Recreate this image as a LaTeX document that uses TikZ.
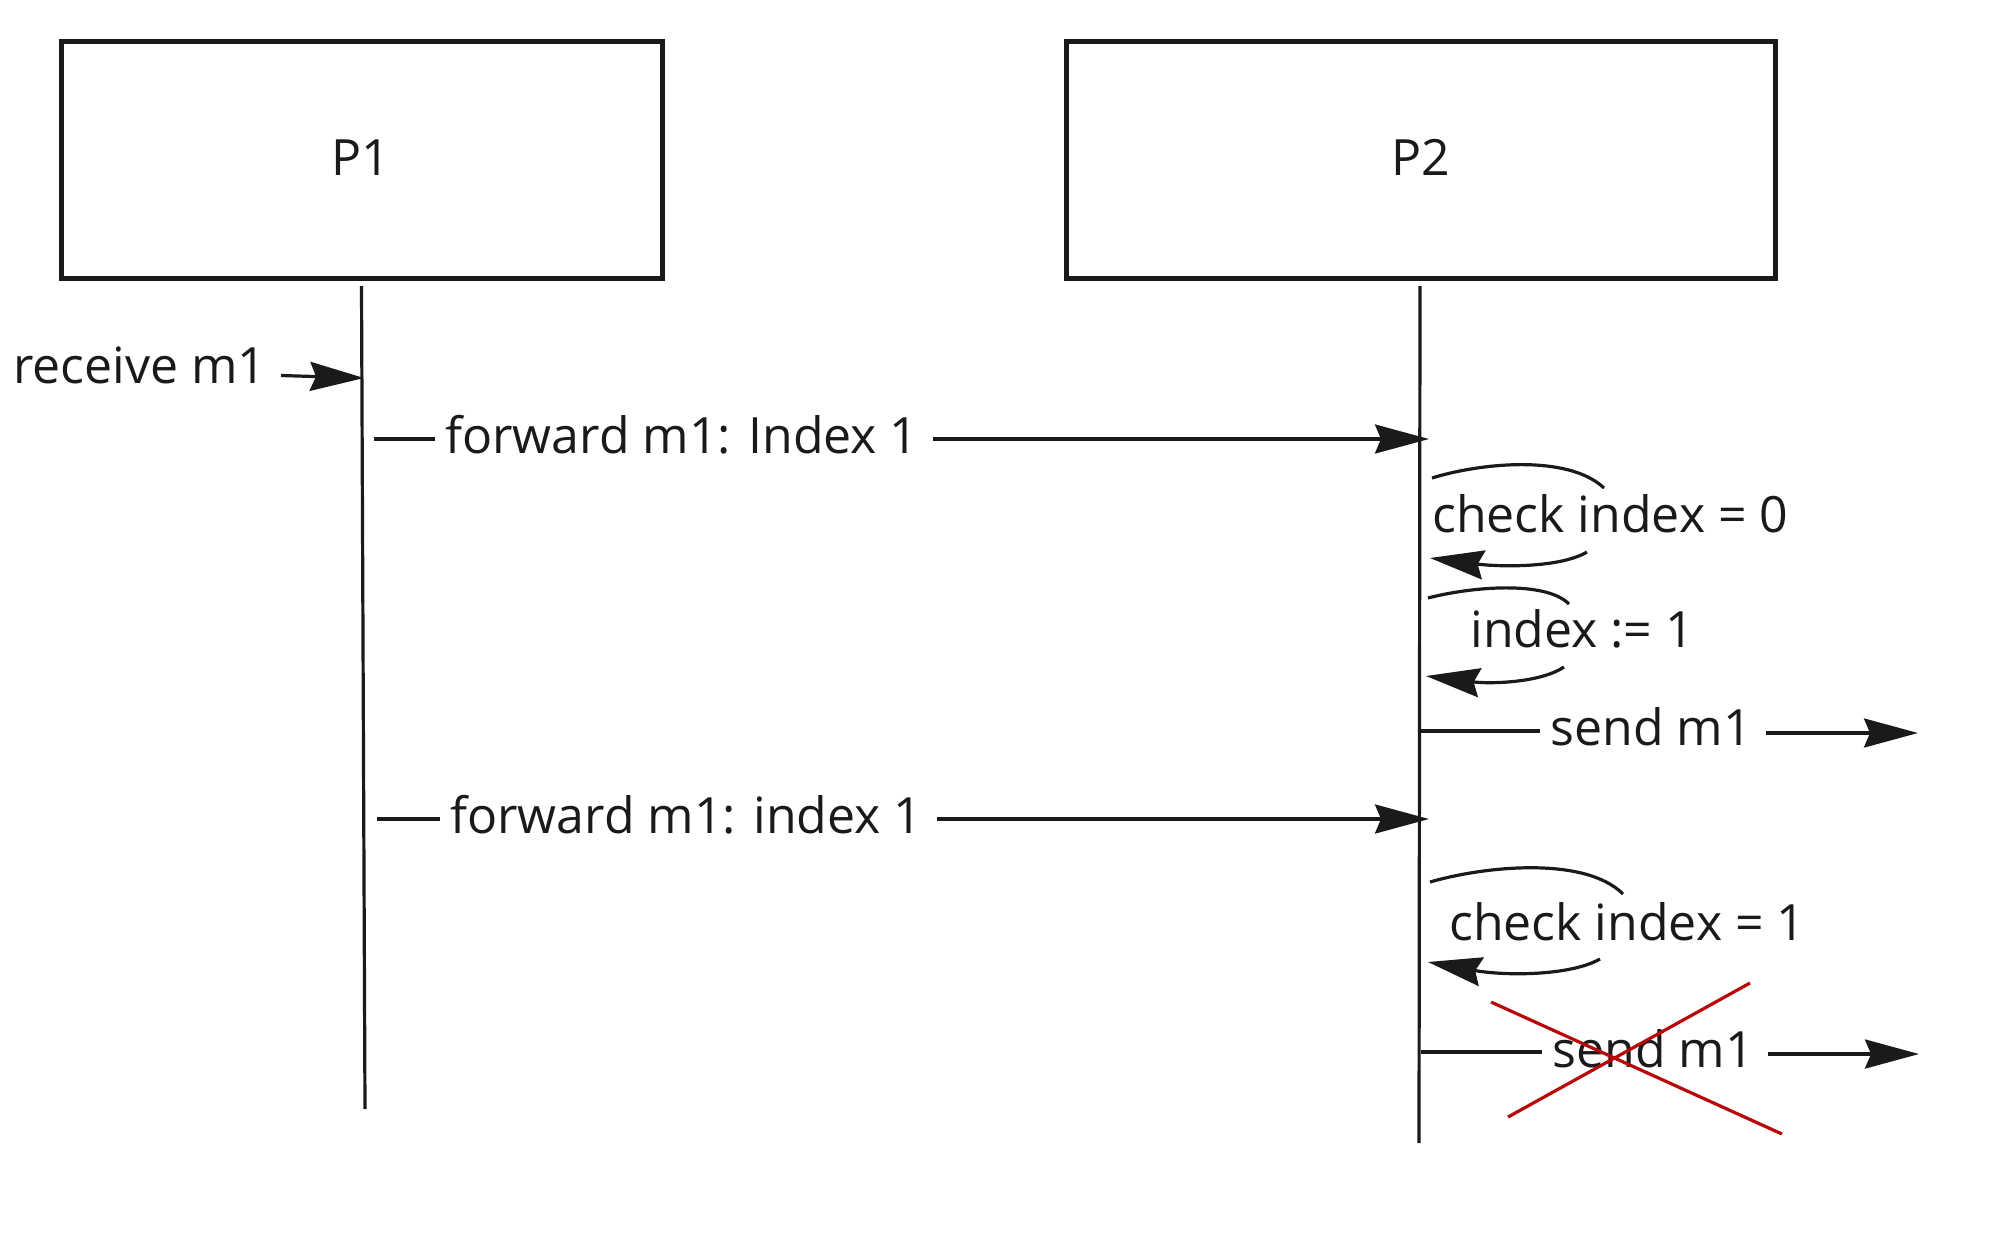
\documentclass[tikz,border=0pt]{standalone}
\usepackage{fontspec}
\setmainfont{Open Sans}
\usetikzlibrary{arrows.meta}
\definecolor{ink}{RGB}{26,26,26}
\definecolor{crossred}{RGB}{184,8,8}
\tikzset{
  procbox/.style={draw=ink, line width=2.5pt, inner sep=0pt},
  lifeline/.style={draw=ink, line width=1.6pt},
  msg/.style={draw=ink, line width=1.6pt},
  msgarrow/.style={draw=ink, line width=1.6pt, -{Stealth[length=27pt, width=14.5pt, inset=3pt]}},
  lbl/.style={text=ink, font=\fontsize{25pt}{28pt}\selectfont, inner xsep=5pt, inner ysep=0pt, anchor=base west},
  crossline/.style={draw=crossred, line width=1.6pt}
}
\begin{document}
\begin{tikzpicture}[x=0.5pt,y=-0.5pt]
\useasboundingbox (0,0) rectangle (2003,1244);
% boxes
\node[procbox, minimum width=300.5pt, minimum height=118.5pt] (P1) at (361.5,159.5) {};
\node[procbox, minimum width=354.5pt, minimum height=118.5pt] (P2) at (1421,159.5) {};
\node[lbl, anchor=base] (P1t) at (361,175) {P1};
\node[lbl, anchor=base] (P2t) at (1421,175) {P2};
% lifelines
\coordinate (L1top) at (361.5,286);
\coordinate (L1bot) at (365,1109);
\coordinate (L2top) at (1420,286);
\coordinate (L2bot) at (1419,1143);
\draw[lifeline] (L1top) -- (L1bot);
\draw[lifeline] (L2top) -- (L2bot);
% receive m1
\node[lbl, inner xsep=0pt] (recv) at (13,383) {receive m1};
\coordinate (recvS) at (281,375.5);
\coordinate (recvE) at (364,378);
\draw[msgarrow] (recvS) -- (recvE);
% forward 1
\node[lbl] (fwd1) at (435,453) {forward m1: Index 1};
\coordinate (f1s) at (374,439);
\coordinate (f1e) at (1429,439);
\draw[msg] (f1s) -- (fwd1.west |- f1s);
\draw[msgarrow] ([xshift=2pt]fwd1.east |- f1e) -- (f1e);
% check index = 0
\node[lbl, inner xsep=0pt] (chk0) at (1432,532) {check index = 0};
\coordinate (c0a) at (1432,478);
\coordinate (c0b) at (1604,488);
\coordinate (c0c) at (1587,552);
\coordinate (c0d) at (1430,558);
\draw[msg] (c0a) .. controls (1480,463) and (1568,454) .. (c0b);
\draw[msgarrow] (c0c) .. controls (1560,568) and (1500,567) .. (c0d);
% index := 1
\node[lbl, inner xsep=0pt] (idx) at (1470,647) {index := 1};
\coordinate (i1a) at (1428,598);
\coordinate (i1b) at (1569,604);
\coordinate (i1c) at (1564,667);
\coordinate (i1d) at (1426,676);
\draw[msg] (i1a) .. controls (1470,587) and (1545,580) .. (i1b);
\draw[msgarrow] (i1c) .. controls (1540,683) and (1490,684) .. (i1d);
% send m1 (1)
\node[lbl] (send1) at (1540,745) {send m1};
\coordinate (s1s) at (1420,731);
\coordinate (s1e) at (1918,733);
\draw[msg] (s1s) -- (send1.west |- s1s);
\draw[msgarrow] ([xshift=2pt]send1.east |- s1e) -- (s1e);
% forward 2
\node[lbl] (fwd2) at (440,833) {forward m1: index 1};
\coordinate (f2s) at (377,819);
\coordinate (f2e) at (1429,819);
\draw[msg] (f2s) -- (fwd2.west |- f2s);
\draw[msgarrow] ([xshift=2pt]fwd2.east |- f2e) -- (f2e);
% check index = 1
\node[lbl, inner xsep=0pt] (chk1) at (1449,940) {check index = 1};
\coordinate (c1a) at (1430,882);
\coordinate (c1b) at (1623,894);
\coordinate (c1c) at (1600,959);
\coordinate (c1d) at (1428,962);
\draw[msg] (c1a) .. controls (1485,866) and (1585,856) .. (c1b);
\draw[msgarrow] (c1c) .. controls (1570,976) and (1505,976) .. (c1d);
% send m1 (2), crossed out
\node[lbl] (send2) at (1542,1067) {send m1};
\coordinate (s2s) at (1421,1052);
\coordinate (s2e) at (1919,1054);
\draw[msg] (s2s) -- (send2.west |- s2s);
\draw[msgarrow] ([xshift=2pt]send2.east |- s2e) -- (s2e);
\coordinate (xa) at (1491,1002);
\coordinate (xb) at (1782,1134);
\coordinate (xc) at (1508,1117);
\coordinate (xd) at (1750,983);
\draw[crossline] (xa) -- (xb);
\draw[crossline] (xc) -- (xd);
\end{tikzpicture}
\end{document}
